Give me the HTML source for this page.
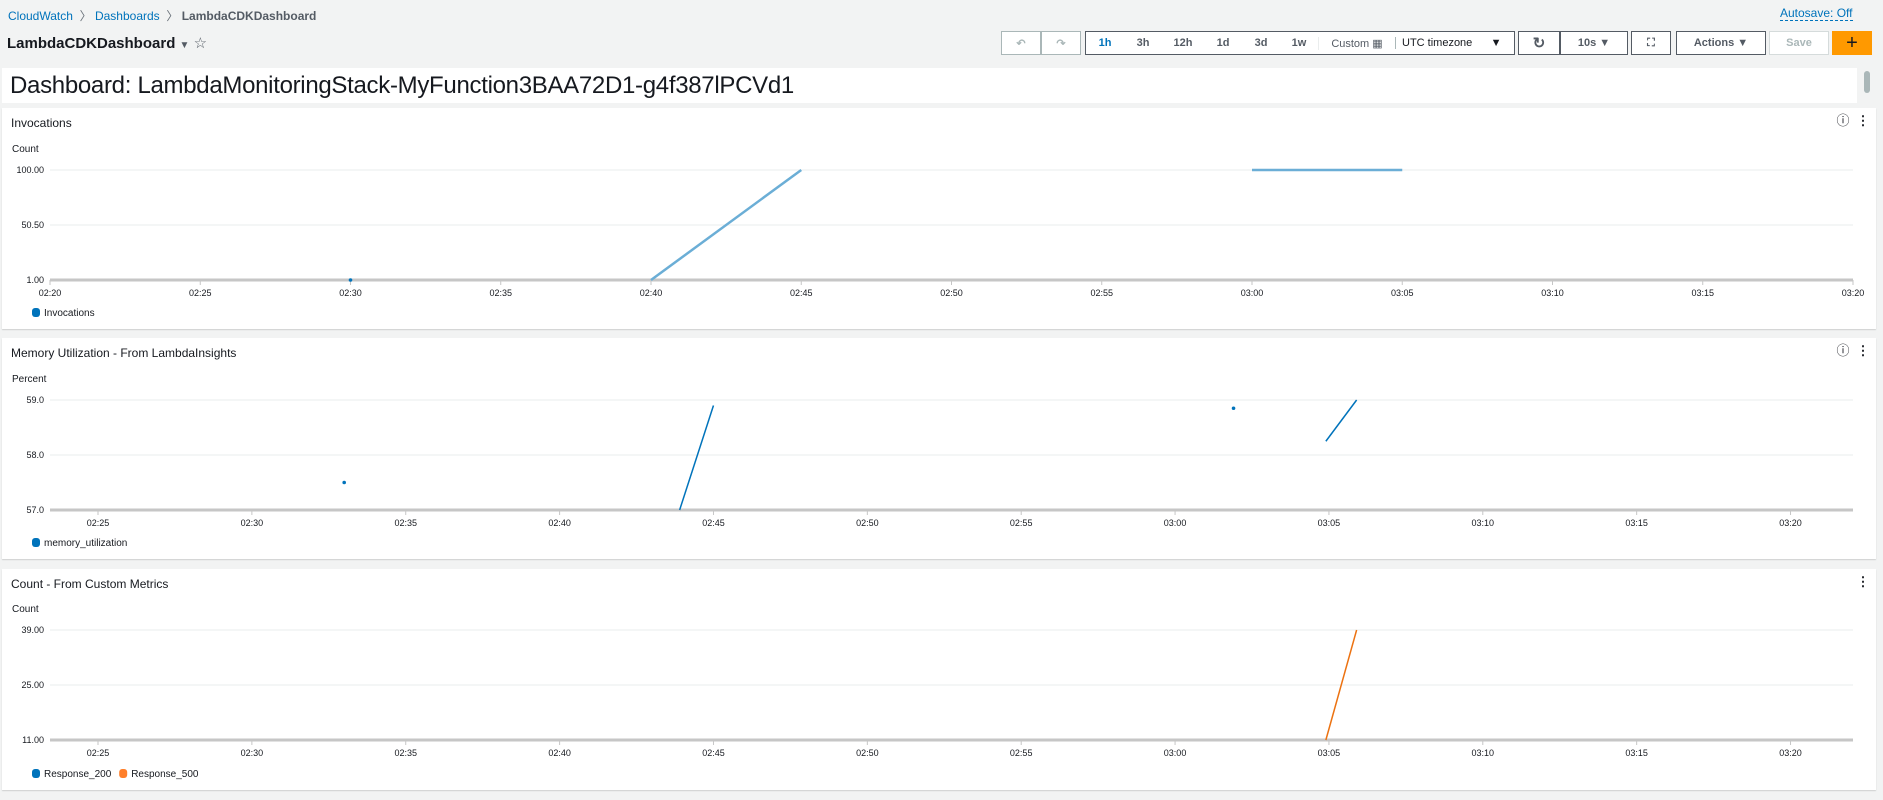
<!DOCTYPE html>
<html><head><meta charset="utf-8">
<style>
body{margin:0;width:1883px;height:800px;background:#f2f3f3;font-family:"Liberation Sans",sans-serif;overflow:hidden;position:relative;color:#16191f}
.abs{position:absolute}
.panel{position:absolute;left:2px;width:1874px;background:#fff;box-shadow:0 1px 1px rgba(0,0,0,.15)}
.ptitle{position:absolute;left:9px;top:8px;font-size:12px;color:#16191f}
.btn{position:absolute;top:31px;height:24px;border:1px solid #aab7b8;background:#fff;font-size:11px;font-weight:bold;color:#545b64;display:flex;align-items:center;justify-content:center;box-sizing:border-box}
svg text{font-family:"Liberation Sans",sans-serif}
</style></head><body>
<div class="abs" style="left:8px;top:7px;font-size:12px"><span style="color:#0073bb">CloudWatch</span> <span style="color:#687078">&nbsp;〉</span> <span style="color:#0073bb">Dashboards</span> <span style="color:#687078">&nbsp;〉</span> <span style="color:#545b64;font-weight:bold">LambdaCDKDashboard</span></div>
<div class="abs" style="left:7px;top:34px;font-size:15px;font-weight:bold">LambdaCDKDashboard <span style="font-size:10px;color:#545b64">▼</span> <span style="font-weight:normal;color:#545b64">☆</span></div>
<div class="abs" style="left:1780px;top:6px;font-size:12px;color:#0073bb;border-bottom:1px dashed #0073bb">Autosave: Off</div>
<div class="btn" style="left:1001px;width:40px;color:#aab7b8">↶</div>
<div class="btn" style="left:1041px;width:40px;color:#aab7b8">↷</div>
<div class="btn" style="left:1085px;width:430px;justify-content:flex-start;border-color:#545b64">
<span style="width:38px;text-align:center;color:#0073bb">1h</span><span style="width:38px;text-align:center">3h</span><span style="width:42px;text-align:center">12h</span><span style="width:38px;text-align:center">1d</span><span style="width:38px;text-align:center">3d</span><span style="width:38px;text-align:center">1w</span><span style="width:76px;text-align:center;font-weight:normal;border-left:1px solid #eaeded">Custom ▦</span><span style="width:112px;text-align:left;padding-left:6px;font-weight:normal;color:#16191f;border-left:1px solid #aab7b8">UTC timezone &nbsp;&nbsp;&nbsp;&nbsp;&nbsp;▼</span></div>
<div class="btn" style="left:1518px;width:42px;border-color:#545b64;font-size:15px">↻</div>
<div class="btn" style="left:1560px;width:68px;border-color:#545b64">10s ▼</div>
<div class="btn" style="left:1631px;width:40px;border-color:#545b64">⛶</div>
<div class="btn" style="left:1676px;width:90px;border-color:#545b64">Actions ▼</div>
<div class="btn" style="left:1769px;width:60px;color:#aab7b8;border-color:#d5dbdb">Save</div>
<div class="btn" style="left:1832px;width:40px;background:#ff9900;border-color:#ff9900;color:#16191f;font-size:20px;font-weight:normal">+</div>
<div class="abs" style="left:2px;top:68px;width:1855px;height:35px;background:#fff">
<div style="position:absolute;left:8px;top:4px;font-size:24px;letter-spacing:-0.3px;color:#16191f">Dashboard: LambdaMonitoringStack-MyFunction3BAA72D1-g4f387lPCVd1</div></div>
<div class="abs" style="left:1864px;top:71px;width:6px;height:22px;background:#aab7b8;border-radius:3px"></div>

<div class="panel" style="top:108px;height:221px"><div class="ptitle">Invocations</div></div>
<div class="panel" style="top:338px;height:221px"><div class="ptitle">Memory Utilization - From LambdaInsights</div></div>
<div class="panel" style="top:569px;height:221px"><div class="ptitle">Count - From Custom Metrics</div></div>

<svg id="charts" class="abs" style="left:0;top:0" width="1883" height="800"></svg>
<script>
// Chart 1: Invocations (x in minutes past 02:00)
const c1Ticks = [1.00, 50.50, 100.00];
const c1TickLabels = ["1.00","50.50","100.00"];
const c1XTicks = [20,25,30,35,40,45,50,55,60,65,70,75,80];
const c1Segments = [[[40,1],[45,100]],[[60,100],[65,100]]];
const c1Dots = [[30,1]];
// Chart 2: Memory
const c2Ticks = [57.0, 58.0, 59.0];
const c2TickLabels = ["57.0","58.0","59.0"];
const c2Segments = [[[43.9,57.0],[45.0,58.9]],[[64.9,58.25],[65.9,59.0]]];
const c2Dots = [[33.0,57.5],[61.9,58.85]];
// Chart 3: Custom counts
const c3Ticks = [11, 25, 39];
const c3TickLabels = ["11.00","25.00","39.00"];
const c3Segments500 = [[[64.9,11],[65.9,39]]];
const xTicks23 = [25,30,35,40,45,50,55,60,65,70,75,80];

const svg = document.getElementById('charts');
const NS = 'http://www.w3.org/2000/svg';
function mk(tag, attrs, txt){const e=document.createElementNS(NS,tag);for(const k in attrs)e.setAttribute(k,attrs[k]);if(txt!==undefined)e.textContent=txt;svg.appendChild(e);return e;}
function lbl(m){const h=2+Math.floor(m/60),mm=m%60;return '0'+h+':'+(mm<10?'0':'')+mm;}

function chart(o){
  const xs=v=>o.x0+(v-o.xmin)/(o.xmax-o.xmin)*(o.x1-o.x0);
  const ys=v=>o.yb+(v-o.ymin)/(o.ymax-o.ymin)*(o.yt-o.yb);
  let e=mk('text',{x:o.x0-38,y:o.yt-18,'font-size':10,fill:'#16191f'},o.unit);
  
  
  o.ticks.forEach((t,i)=>{
    e=mk('line',{x1:o.x0,x2:o.x1,y1:ys(t),y2:ys(t),stroke:i===0?'#c6c6c6':'#eaeded','stroke-width':i===0?3:1});
    
    
    e=mk('text',{x:o.x0-6,y:ys(t)+3,'font-size':9,fill:'#16191f','text-anchor':'end'},o.labels[i]);
    
    
  });
  o.xticks.forEach(t=>{
    e=mk('line',{x1:xs(t),x2:xs(t),y1:o.yb,y2:o.yb+5,stroke:'#c6c6c6'});
    
    
    e=mk('text',{x:xs(t),y:o.yb+16,'font-size':9,fill:'#16191f','text-anchor':'middle'},lbl(t));
    
    
  });
  o.series.forEach(s=>{
    s.segs.forEach(sg=>{
      e=mk('polyline',{points:sg.map(p=>xs(p[0])+','+ys(p[1])).join(' '),fill:'none',stroke:s.color,'stroke-width':s.w});
      
      
    });
    (s.dots||[]).forEach(p=>{
      e=mk('circle',{cx:xs(p[0]),cy:ys(p[1]),r:1.8,fill:'#0073bb'});
      
      
    });
  });
  let lx=o.x0-18;
  o.legend.forEach(l=>{
    e=mk('rect',{x:lx,y:o.ly-5,width:8,height:9,rx:3,fill:l.c});
    
    
    e=mk('text',{x:lx+12,y:o.ly+3,'font-size':10,fill:'#16191f'},l.t);
    
    
    lx+=12+l.t.length*5.6+8;
  });
}
chart({x0:50,x1:1853,xmin:20,xmax:80,yt:170,yb:280,ymin:1,ymax:100,ticks:c1Ticks,labels:c1TickLabels,xticks:c1XTicks,unit:'Count',ly:313,
  series:[{color:'#6baed6',w:2.5,segs:c1Segments,dots:c1Dots}],legend:[{c:'#0073bb',t:'Invocations'}]});
chart({x0:50,x1:1853,xmin:23.44,xmax:82.03,yt:400,yb:510,ymin:57,ymax:59,ticks:c2Ticks,labels:c2TickLabels,xticks:xTicks23,unit:'Percent',ly:543,
  series:[{color:'#0073bb',w:1.5,segs:c2Segments,dots:c2Dots}],legend:[{c:'#0073bb',t:'memory_utilization'}]});
chart({x0:50,x1:1853,xmin:23.44,xmax:82.03,yt:630,yb:740,ymin:11,ymax:39,ticks:c3Ticks,labels:c3TickLabels,xticks:xTicks23,unit:'Count',ly:774,
  series:[{color:'#ec7211',w:1.5,segs:c3Segments500}],legend:[{c:'#0073bb',t:'Response_200'},{c:'#ff7f2a',t:'Response_500'}]});
// panel icons
[[108,true],[338,true],[569,false]].forEach(([t,info])=>{
  let e;
  if(info){e=mk('text',{x:1843,y:t+17,'font-size':13,'text-anchor':'middle',fill:'#16191f'},'ⓘ');
  
  }
  e=mk('text',{x:1863,y:t+17,'font-size':13,'text-anchor':'middle',fill:'#16191f','font-weight':'bold'},'⋮');
  
  
});
</script>
</body></html>
